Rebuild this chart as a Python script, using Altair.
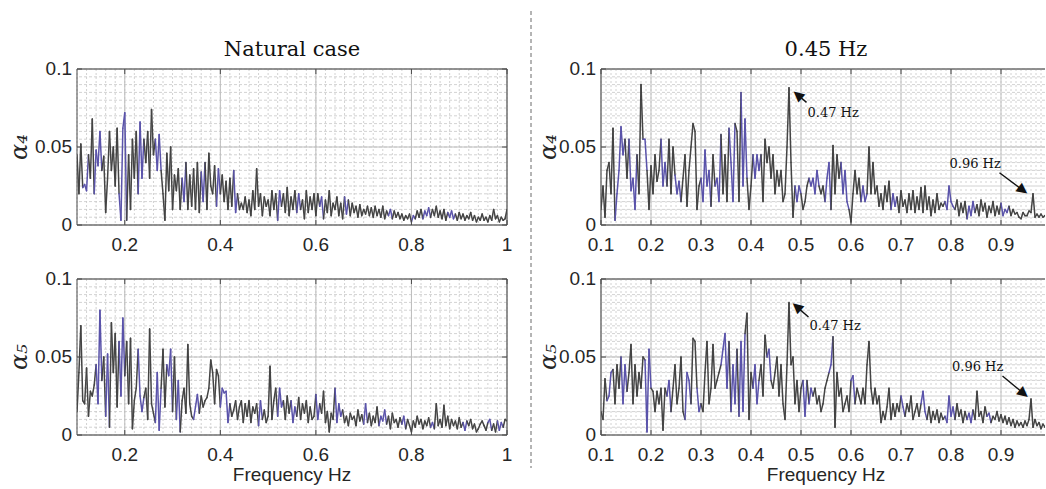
import math

import altair as alt
import numpy as np
import pandas as pd

# ---------------------------------------------------------------- data
# Spectral amplitude on a 0.004 Hz grid starting at 0.1 Hz (units of 1e-3)
F_START = 0.1
F_STEP = 0.004

natural_a4 = [
    45, 20, 52, 24, 26, 22, 45, 30, 68, 20,
    48, 38, 60, 35, 44, 8, 30, 60, 35, 50,
    25, 62, 20, 3, 62, 72, 3, 45, 10, 55,
    30, 60, 20, 66, 30, 55, 40, 60, 30, 74,
    45, 55, 35, 58, 35, 20, 3, 46, 22, 50,
    10, 32, 22, 36, 10, 30, 15, 40, 10, 32,
    12, 36, 10, 40, 8, 34, 15, 40, 10, 46,
    25, 20, 38, 12, 36, 20, 32, 15, 28, 10,
    30, 12, 35, 8, 20, 10, 14, 10, 18, 8,
    16, 6, 22, 10, 36, 12, 20, 6, 18, 12,
    16, 6, 22, 10, 20, 3, 22, 12, 20, 8,
    24, 6, 18, 10, 22, 8, 20, 10, 16, 4,
    22, 8, 18, 10, 20, 6, 20, 12, 18, 4,
    16, 8, 22, 6, 14, 10, 18, 6, 14, 4,
    18, 7, 16, 6, 14, 8, 12, 5, 13, 6,
    10, 7, 12, 6, 11, 5, 12, 6, 10, 5,
    12, 4, 9, 6, 10, 4, 9, 5, 8, 4,
    7, 3, 6, 4, 7, 2, 6, 4, 9, 5,
    10, 4, 9, 6, 11, 5, 10, 6, 12, 5,
    9, 4, 10, 3, 8, 5, 9, 4, 7, 3,
    8, 4, 7, 3, 6, 4, 8, 3, 6, 2,
    5, 3, 7, 3, 5, 2, 6, 3, 10, 4,
    6, 2, 5, 3, 4, 10,
]

natural_a5 = [
    15, 40, 70, 22, 20, 43, 12, 28, 25, 32,
    45, 20, 80, 35, 50, 12, 52, 5, 72, 40,
    65, 18, 60, 25, 75, 38, 60, 20, 62, 4,
    22, 30, 55, 25, 15, 24, 30, 10, 68, 20,
    14, 8, 40, 3, 30, 55, 18, 45, 38, 55,
    15, 50, 10, 35, 2, 22, 30, 14, 58, 20,
    12, 10, 18, 26, 14, 25, 18, 22, 24, 30,
    48, 40, 20, 42, 38, 18, 30, 27, 28, 8,
    20, 12, 16, 22, 10, 18, 22, 8, 20, 12,
    22, 8, 18, 14, 20, 6, 22, 10, 16, 8,
    12, 44, 10, 22, 30, 12, 30, 18, 22, 10,
    25, 14, 22, 8, 18, 12, 24, 10, 20, 14,
    22, 8, 18, 10, 12, 26, 10, 20, 14, 28,
    8, 15, 2, 14, 10, 30, 8, 20, 12, 16,
    8, 12, 6, 14, 10, 12, 6, 16, 9, 13,
    7, 20, 8, 14, 6, 12, 8, 18, 6, 12,
    9, 16, 7, 12, 4, 14, 8, 10, 5, 11,
    7, 12, 4, 10, 6, 2, 9, 5, 12, 7,
    10, 4, 9, 6, 11, 5, 8, 4, 20, 6,
    10, 5, 19, 6, 12, 4, 10, 6, 9, 4,
    11, 5, 8, 3, 9, 6, 10, 4, 7, 2,
    4, 7, 9, 6, 3, 8, 10, 3, 7, 2,
    9, 3, 8, 5, 10, 9,
]

forced_a4 = [
    10, 25, 5, 35, 40, 20, 62, 3, 20, 35,
    63, 45, 55, 30, 55, 22, 30, 10, 45, 20,
    90, 55, 55, 35, 10, 38, 20, 45, 28, 35,
    55, 25, 40, 25, 55, 20, 50, 32, 20, 28,
    15, 30, 45, 12, 35, 50, 65, 60, 10, 25,
    30, 15, 48, 25, 35, 12, 45, 25, 30, 15,
    58, 20, 45, 15, 62, 40, 15, 65, 60, 15,
    85, 25, 68, 30, 10, 25, 45, 30, 45, 35,
    45, 15, 55, 40, 50, 30, 45, 20, 35, 25,
    35, 15, 20, 50, 88, 40, 5, 25, 15, 25,
    20, 10, 15, 25, 30, 25, 30, 20, 35, 25,
    20, 25, 15, 30, 40, 10, 51, 20, 45, 30,
    40, 20, 35, 15, 10, 2, 20, 35, 20, 30,
    15, 25, 15, 20, 50, 20, 40, 20, 25, 12,
    20, 10, 25, 15, 28, 10, 20, 12, 18, 8,
    22, 12, 16, 8, 20, 10, 22, 8, 18, 10,
    24, 8, 25, 10, 18, 6, 16, 8, 20, 10,
    14, 12, 15, 10, 25, 15, 12, 10, 16, 6,
    14, 8, 15, 4, 12, 6, 15, 8, 13, 6,
    16, 9, 14, 5, 12, 8, 15, 6, 12, 7,
    14, 6, 10, 8, 12, 6, 10, 7, 8, 5,
    4, 8, 6, 6, 9, 8, 20, 5, 7, 5,
    7, 5, 6, 5, 6, 5,
]

forced_a5 = [
    15, 10, 36, 22, 25, 40, 42, 20, 45, 30,
    50, 20, 45, 28, 40, 58, 20, 45, 25, 40,
    30, 50, 48, 2, 55, 30, 28, 15, 28, 20,
    30, 3, 30, 25, 35, 15, 30, 45, 20, 30,
    50, 15, 10, 40, 35, 20, 62, 60, 30, 15,
    20, 15, 40, 60, 20, 30, 58, 30, 35, 40,
    45, 55, 65, 30, 60, 15, 45, 20, 55, 12,
    60, 15, 65, 78, 10, 40, 30, 45, 20, 35,
    45, 25, 64, 50, 55, 35, 30, 40, 50, 25,
    45, 20, 10, 45, 85, 45, 50, 20, 35, 15,
    30, 35, 12, 35, 20, 30, 25, 30, 20, 25,
    15, 20, 30, 35, 40, 45, 63, 5, 40, 25,
    30, 15, 20, 25, 15, 35, 38, 20, 30, 25,
    20, 30, 20, 45, 60, 30, 20, 30, 20, 25,
    8, 15, 10, 18, 30, 10, 20, 12, 20, 15,
    25, 18, 12, 20, 15, 25, 10, 15, 20, 12,
    20, 28, 15, 10, 18, 8, 15, 10, 16, 8,
    14, 10, 12, 8, 25, 12, 18, 10, 20, 12,
    16, 8, 15, 10, 14, 8, 16, 10, 28, 12,
    15, 8, 18, 12, 14, 8, 12, 10, 15, 9,
    13, 8, 12, 7, 11, 6, 10, 5, 9, 6,
    8, 5, 9, 6, 10, 23, 5, 10, 6, 8,
    4, 7, 5, 8, 4, 6,
]

# Frequency bands (Hz) where the trace is drawn in the second colour
blue_natural_a4 = [(0.112, 0.124), (0.136, 0.152), (0.188, 0.204), (0.228, 0.24),
                   (0.264, 0.276), (0.32, 0.328), (0.36, 0.368), (0.392, 0.4),
                   (0.428, 0.436), (0.52, 0.528), (0.56, 0.568), (0.608, 0.616),
                   (0.66, 0.668), (0.752, 0.76), (0.8, 0.808), (0.824, 0.84),
                   (0.876, 0.892)]
blue_natural_a5 = [(0.14, 0.152), (0.16, 0.168), (0.188, 0.2), (0.228, 0.24),
                   (0.264, 0.276), (0.288, 0.3), (0.308, 0.316), (0.344, 0.356),
                   (0.4, 0.42), (0.48, 0.488), (0.52, 0.532), (0.548, 0.56),
                   (0.6, 0.608), (0.64, 0.656), (0.7, 0.708), (0.732, 0.748),
                   (0.78, 0.788), (0.84, 0.848), (0.908, 0.916), (0.96, 0.968),
                   (0.98, 0.992)]
blue_forced_a4 = [(0.128, 0.148), (0.156, 0.172), (0.184, 0.192), (0.22, 0.232),
                  (0.248, 0.26), (0.3, 0.32), (0.328, 0.34), (0.356, 0.368),
                  (0.38, 0.392), (0.404, 0.42), (0.488, 0.5), (0.516, 0.536),
                  (0.548, 0.56), (0.58, 0.596), (0.62, 0.632), (0.68, 0.692),
                  (0.79, 0.808), (0.832, 0.848), (0.9, 0.916)]
blue_forced_a5 = [(0.112, 0.124), (0.14, 0.152), (0.188, 0.2), (0.232, 0.24),
                  (0.268, 0.28), (0.292, 0.3), (0.34, 0.356), (0.36, 0.372),
                  (0.376, 0.388), (0.404, 0.416), (0.432, 0.44), (0.504, 0.512),
                  (0.516, 0.524), (0.556, 0.564), (0.6, 0.608), (0.7, 0.708),
                  (0.74, 0.752), (0.79, 0.808), (0.832, 0.844), (0.872, 0.88)]

# Peak call-outs: label, text anchor (Hz, amp), arrow tail, arrow tip
arrows_forced_a4 = [
    ("0.47 Hz", 0.513, 0.072, 0.511, 0.0786, 0.484, 0.086),
    ("0.96 Hz", 0.797, 0.039, 0.897, 0.0335, 0.954, 0.0198),
]
arrows_forced_a5 = [
    ("0.47 Hz", 0.517, 0.0697, 0.515, 0.0756, 0.482, 0.0848),
    ("0.96 Hz", 0.802, 0.0437, 0.903, 0.0378, 0.955, 0.0240),
]

x_ticks_natural = [0.2, 0.4, 0.6, 0.8, 1.0]
x_labels_natural = ["0.2", "0.4", "0.6", "0.8", "1"]
x_ticks_forced = [0.1, 0.2, 0.3, 0.4, 0.5, 0.6, 0.7, 0.8, 0.9]
x_labels_forced = ["0.1", "0.2", "0.3", "0.4", "0.5", "0.6", "0.7", "0.8", "0.9"]
y_ticks = [0, 0.05, 0.1]
y_labels = ["0", "0.05", "0.1"]

# ---------------------------------------------------------------- style
SANS = "Liberation Sans"
SERIF = "DejaVu Serif"
INK = "#262626"
FRAME = "#4a4a4a"
GRAY_LINE = "#444444"
BLUE_LINE = "#5a53aa"
MAJOR_GRID = "#bdbdbd"
MINOR_GRID = "#c6c6c6"
H = 156
HEAD_R = 6.0          # distance from arrow-head glyph centre to its tip (px)
HEAD_FONT = 14


def make_segments(vals, blue):
    v = np.asarray(vals, dtype=float) * 1e-3
    f = F_START + F_STEP * np.arange(len(v))
    mid = (f[:-1] + f[1:]) / 2
    is_blue = np.zeros(len(mid), dtype=bool)
    for a, b in blue:
        is_blue |= (mid >= a) & (mid <= b)
    return pd.DataFrame({"f0": f[:-1], "f1": f[1:], "v0": v[:-1], "v1": v[1:],
                         "c": np.where(is_blue, "b", "g")})


def make_arrows(arrows, width, x_max):
    kx = width / (x_max - 0.1)
    ky = H / 0.1
    rows = []
    for label, tx, tv, x0, v0, x1, v1 in arrows:
        dx = (x1 - x0) * kx
        dy = -(v1 - v0) * ky
        n = math.hypot(dx, dy)
        ux, uy = dx / n, dy / n
        ang = math.degrees(math.atan2(dx, -dy)) % 360
        rows.append(dict(label=label, tx=tx, tv=tv, x0=x0, v0=v0,
                         hx=x1 - HEAD_R * ux / kx, hv=v1 + HEAD_R * uy / ky,
                         ang=ang))
    return rows


def panel(vals, blue, x_max, x_ticks, x_labels, minor_step, width, y_title,
          y_title_x, x_title=None, x_title_cx=None, title=None, title_dx=0,
          arrows=None, right_frame=True, left_anchor=False, separator=None):
    xs = alt.Scale(domain=[0.1, x_max], nice=False, zero=False)
    ys = alt.Scale(domain=[0, 0.1], nice=False, zero=False)

    def X(field):
        return alt.X(field, scale=xs, axis=None)

    def Y(field):
        return alt.Y(field, scale=ys, axis=None)

    seg = make_segments(vals, blue)
    minor_x = pd.DataFrame({"f": np.round(np.arange(0.1, x_max + 1e-9, minor_step), 4)})
    minor_y = pd.DataFrame({"v": np.round(np.arange(0.0, 0.1 + 1e-9, 0.005), 4)})
    one = pd.DataFrame({"k": [0]})
    xt = pd.DataFrame({"t": x_ticks, "lab": x_labels})
    yt = pd.DataFrame({"t": y_ticks, "lab": y_labels})

    def frame_rule():
        return alt.Chart(one).mark_rule(color=FRAME, strokeWidth=1)

    layers = [
        # grid
        alt.Chart(minor_x).mark_rule(color=MINOR_GRID, strokeWidth=0.8,
                                     strokeDash=[2, 2]).encode(x=X("f:Q")),
        alt.Chart(minor_y).mark_rule(color=MINOR_GRID, strokeWidth=0.8,
                                     strokeDash=[3, 2]).encode(y=Y("v:Q")),
        alt.Chart(xt).mark_rule(color=MAJOR_GRID, strokeWidth=1).encode(x=X("t:Q")),
        alt.Chart(yt).mark_rule(color=MAJOR_GRID, strokeWidth=1).encode(y=Y("t:Q")),
        # spectrum
        alt.Chart(seg).mark_rule(strokeWidth=1.5, strokeCap="round", clip=True).encode(
            x=X("f0:Q"), x2="f1:Q", y=Y("v0:Q"), y2="v1:Q",
            color=alt.Color("c:N", scale=alt.Scale(domain=["g", "b"],
                                                   range=[GRAY_LINE, BLUE_LINE]),
                            legend=None)),
        # box
        frame_rule().encode(x=alt.value(0), x2=alt.value(width), y=alt.value(0)),
        frame_rule().encode(x=alt.value(0), x2=alt.value(width), y=alt.value(H)),
        frame_rule().encode(x=alt.value(0), y=alt.value(0), y2=alt.value(H)),
        # inward ticks
        alt.Chart(xt).mark_rule(color=FRAME).encode(
            x=X("t:Q"), y=alt.value(H), y2=alt.value(H - 5)),
        alt.Chart(xt).mark_rule(color=FRAME).encode(
            x=X("t:Q"), y=alt.value(0), y2=alt.value(5)),
        alt.Chart(yt).mark_rule(color=FRAME).encode(
            y=Y("t:Q"), x=alt.value(0), x2=alt.value(5)),
        # tick labels
        alt.Chart(xt).mark_text(font=SANS, fontSize=19, color=INK, align="center",
                                baseline="alphabetic").encode(
            x=X("t:Q"), y=alt.value(H + 26), text="lab:N"),
        alt.Chart(yt).mark_text(font=SANS, fontSize=19, color=INK, align="right",
                                baseline="middle").encode(
            y=Y("t:Q"), x=alt.value(-5), text="lab:N"),
        # axis title
        alt.Chart(one).mark_text(font=SERIF, fontStyle="italic", fontSize=24,
                                 color=INK, angle=270, align="center",
                                 baseline="middle").encode(
            x=alt.value(y_title_x), y=alt.value(H / 2), text=alt.value(y_title)),
    ]
    if right_frame:
        layers += [
            frame_rule().encode(x=alt.value(width), y=alt.value(0), y2=alt.value(H)),
            alt.Chart(yt).mark_rule(color=FRAME).encode(
                y=Y("t:Q"), x=alt.value(width - 5), x2=alt.value(width)),
        ]
    if x_title is not None:
        layers.append(alt.Chart(one).mark_text(
            font=SANS, fontSize=19, color=INK, align="center",
            baseline="alphabetic").encode(
            x=alt.value(x_title_cx), y=alt.value(H + 46), text=alt.value(x_title)))
    if arrows is not None:
        rows = make_arrows(arrows, width, x_max)
        adf = pd.DataFrame(rows)
        layers += [
            alt.Chart(adf).mark_rule(color="#111111", strokeWidth=1.4).encode(
                x=X("x0:Q"), x2="hx:Q", y=Y("v0:Q"), y2="hv:Q"),
            alt.Chart(adf).mark_text(font=SERIF, fontSize=13, align="left",
                                     baseline="middle", color="#111111").encode(
                x=X("tx:Q"), y=Y("tv:Q"), text="label:N"),
        ]
        # arrow heads: a filled triangle glyph turned along each arrow
        for row in rows:
            layers.append(
                alt.Chart(pd.DataFrame([row])).mark_text(
                    text="▲", font="DejaVu Sans", fontSize=HEAD_FONT,
                    angle=row["ang"], align="center", baseline="middle",
                    color="#111111").encode(x=X("hx:Q"), y=Y("hv:Q")))
    if left_anchor:
        layers.append(alt.Chart(one).mark_rule(opacity=0).encode(
            x=alt.value(-77), y=alt.value(0), y2=alt.value(1)))
    if separator is not None:
        sx, sy0, sy1 = separator
        layers.append(alt.Chart(one).mark_rule(color="#6a6a6a", strokeWidth=1,
                                               strokeDash=[4, 3]).encode(
            x=alt.value(sx), y=alt.value(sy0), y2=alt.value(sy1)))

    props = dict(width=width, height=H)
    if title is not None:
        props["title"] = alt.TitleParams(title, font=SERIF, fontSize=21,
                                         fontWeight="normal", color="#111111",
                                         anchor="middle", offset=0, dx=title_dx)
    return alt.layer(*layers).properties(**props)


W_NAT = 430
W_FORCED = 444
X_MAX_FORCED = 0.1 + W_FORCED / 500

pA = panel(natural_a4, blue_natural_a4, 1.0, x_ticks_natural, x_labels_natural,
           0.02, W_NAT, "α₄", -57, title="Natural case", left_anchor=True)
pC = panel(forced_a4, blue_forced_a4, X_MAX_FORCED, x_ticks_forced, x_labels_forced,
           0.01, W_FORCED, "α₄", -52, title="0.45 Hz", title_dx=3,
           arrows=arrows_forced_a4, right_frame=False)
pB = panel(natural_a5, blue_natural_a5, 1.0, x_ticks_natural, x_labels_natural,
           0.02, W_NAT, "α₅", -57, x_title="Frequency Hz", x_title_cx=W_NAT / 2,
           separator=(454, -268, 189))
pD = panel(forced_a5, blue_forced_a5, X_MAX_FORCED, x_ticks_forced, x_labels_forced,
           0.01, W_FORCED, "α₅", -52, x_title="Frequency Hz", x_title_cx=225,
           arrows=arrows_forced_a5, right_frame=False)

chart = alt.concat(
    pA, pC, pB, pD, columns=2,
    spacing=alt.RowColnumber(row=54, column=94), bounds="flush",
).properties(
    padding={"left": 0, "top": 10, "right": 0, "bottom": 2},
    background="white",
).configure_view(strokeWidth=0)

chart.save("out.html", embed_options={"renderer": "svg", "actions": False})
